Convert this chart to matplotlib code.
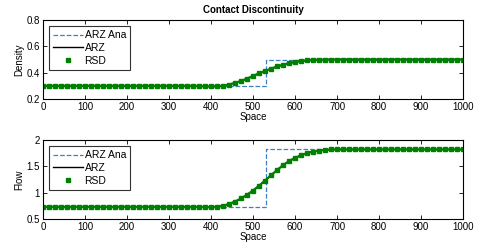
import numpy as np
import matplotlib
matplotlib.use("Agg")
import matplotlib.pyplot as plt

plt.rcParams['font.family'] = ['Liberation Sans', 'DejaVu Sans']

# analytical (step) solution
x_ana = [0, 530, 530, 1000]
rho_ana = [0.3, 0.3, 0.5, 0.5]
q_ana = [0.733, 0.733, 1.82, 1.82]

# numerical solutions on the marker grid (0..1000, 71 points)
rho_num = [0.30] * 26 + [
    0.298, 0.296, 0.295, 0.296, 0.300, 0.310, 0.322, 0.337, 0.355, 0.375,
    0.395, 0.413, 0.430, 0.447, 0.460, 0.472, 0.481, 0.488, 0.493, 0.496,
    0.498, 0.499] + [0.50] * 23
q_num = [0.73] * 26 + [
    0.728, 0.726, 0.725, 0.730, 0.750, 0.785, 0.830, 0.890, 0.960, 1.040,
    1.130, 1.230, 1.330, 1.430, 1.520, 1.600, 1.660, 1.710, 1.750, 1.780,
    1.800, 1.810] + [1.82] * 23
x_num = np.linspace(0, 1000, len(rho_num))

ana_col = '#3d7fc4'
rsd_col = '#008000'

fig = plt.figure(figsize=(4.88, 2.5), dpi=100)
ax1 = fig.add_axes([0.088, 0.604, 0.861, 0.316])
ax2 = fig.add_axes([0.088, 0.124, 0.861, 0.316])

panels = [(ax1, rho_ana, rho_num, 'Density', (0.2, 0.8), [0.2, 0.4, 0.6, 0.8]),
          (ax2, q_ana, q_num, 'Flow', (0.5, 2), [0.5, 1, 1.5, 2])]

for ax, ana, num, ylab, ylim, yt in panels:
    ax.plot(x_ana, ana, '--', color=ana_col, lw=0.9, label='ARZ Ana')
    ax.plot(x_num, num, '-', color='k', lw=1.0, label='ARZ')
    ax.plot(x_num, num, '-', color=rsd_col, lw=1.6)
    ax.plot(x_num, num, 's', color=rsd_col, ms=3.0, label='RSD')
    ax.set_xlim(0, 1000)
    ax.set_ylim(*ylim)
    ax.set_xticks(range(0, 1001, 100))
    ax.set_yticks(yt)
    ax.set_yticklabels([('%g' % v) for v in yt])
    ax.tick_params(direction='in', top=True, right=True, labelsize=7,
                   length=3, width=0.6, pad=2)
    ax.set_xlabel('Space', fontsize=7, labelpad=0)
    ax.set_ylabel(ylab, fontsize=7, labelpad=2)
    for s in ax.spines.values():
        s.set_linewidth(0.8)
    leg = ax.legend(loc='upper left', fontsize=7.5, frameon=True, fancybox=False,
                    handlelength=2.8, borderpad=0.4, labelspacing=0.25,
                    handletextpad=0.2, borderaxespad=0.6)
    leg.get_frame().set_edgecolor('k')
    leg.get_frame().set_linewidth(0.8)

ax1.set_title('Contact Discontinuity', fontsize=7, fontweight='bold', pad=5)

fig.savefig('out.png', dpi=100)
